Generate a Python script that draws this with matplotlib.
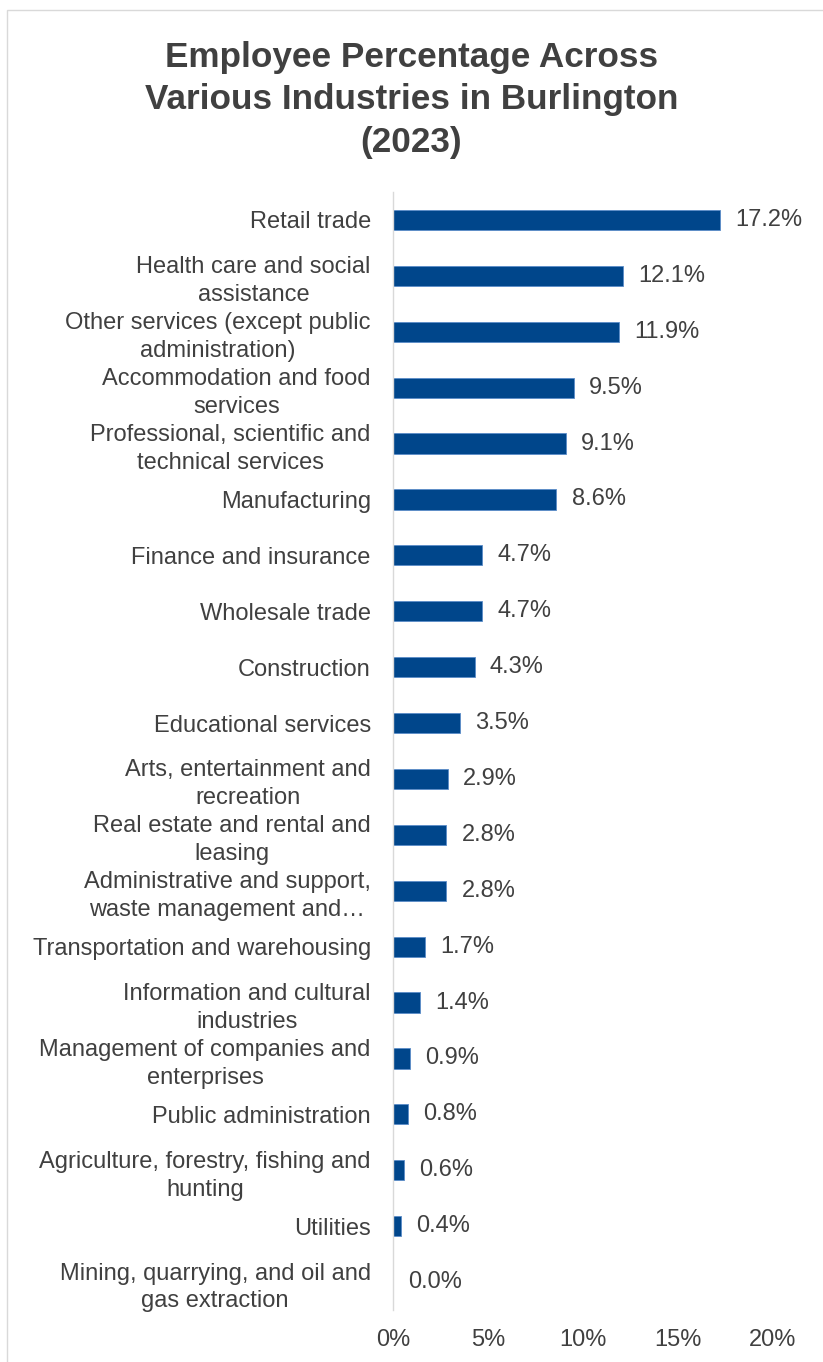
import matplotlib
matplotlib.use("Agg")
import matplotlib.pyplot as plt
from matplotlib.patches import Rectangle

categories = [
    "Retail trade",
    "Health care and social\nassistance",
    "Other services (except public\nadministration)",
    "Accommodation and food\nservices",
    "Professional, scientific and\ntechnical services",
    "Manufacturing",
    "Finance and insurance",
    "Wholesale trade",
    "Construction",
    "Educational services",
    "Arts, entertainment and\nrecreation",
    "Real estate and rental and\nleasing",
    "Administrative and support,\nwaste management and\u2026",
    "Transportation and warehousing",
    "Information and cultural\nindustries",
    "Management of companies and\nenterprises",
    "Public administration",
    "Agriculture, forestry, fishing and\nhunting",
    "Utilities",
    "Mining, quarrying, and oil and\ngas extraction",
]
values = [17.2, 12.1, 11.9, 9.5, 9.1, 8.6, 4.7, 4.7, 4.3, 3.5, 2.9, 2.8, 2.8, 1.7, 1.4, 0.9, 0.8, 0.6, 0.4, 0.0]
xticks = [0, 5, 10, 15, 20]
xticklabels = ["0%", "5%", "10%", "15%", "20%"]
title = "Employee Percentage Across\nVarious Industries in Burlington\n(2023)"

plt.rcParams['font.family'] = ['Liberation Sans', 'DejaVu Sans']
txt = "#404040"

fig = plt.figure(figsize=(8.23, 13.62), dpi=100)
fig.patches.append(Rectangle((7/823, -0.01), 1.0, 1 - 10/1362 + 0.01, transform=fig.transFigure,
                             fill=False, edgecolor="#d9d9d9", linewidth=1.0))
ax = fig.add_axes([393/823, 1 - 1310/1362, (773 - 393)/823, (1310 - 192)/1362])

y = list(range(len(categories)))
ax.barh(y, values, height=0.36, color="#00468b", edgecolor="#5b8cc8", linewidth=0.6)
for yi, v in zip(y, values):
    ax.text(v + 0.8, yi, f"{v:.1f}%", va="center", ha="left", fontsize=17, color=txt)

ax.set_ylim(len(categories) - 0.5, -0.5)
ax.set_xlim(0, 20)
ax.set_yticks(y)
ax.set_yticklabels(categories, fontsize=17, color=txt, linespacing=1.35, multialignment="center")
ax.set_xticks(xticks)
ax.set_xticklabels(xticklabels, fontsize=17, color=txt)
ax.tick_params(axis="y", length=0, pad=16)
ax.tick_params(axis="x", length=0, pad=14)
for s in ["top", "right", "bottom"]:
    ax.spines[s].set_visible(False)
ax.spines["left"].set_color("#d9d9d9")
ax.spines["left"].set_linewidth(1.0)

fig.text(0.5, 1 - 100/1362, title, ha="center", va="center", fontsize=25.3, fontweight="bold",
         color=txt, linespacing=1.38)

fig.savefig("out.png", dpi=100, facecolor="white")
